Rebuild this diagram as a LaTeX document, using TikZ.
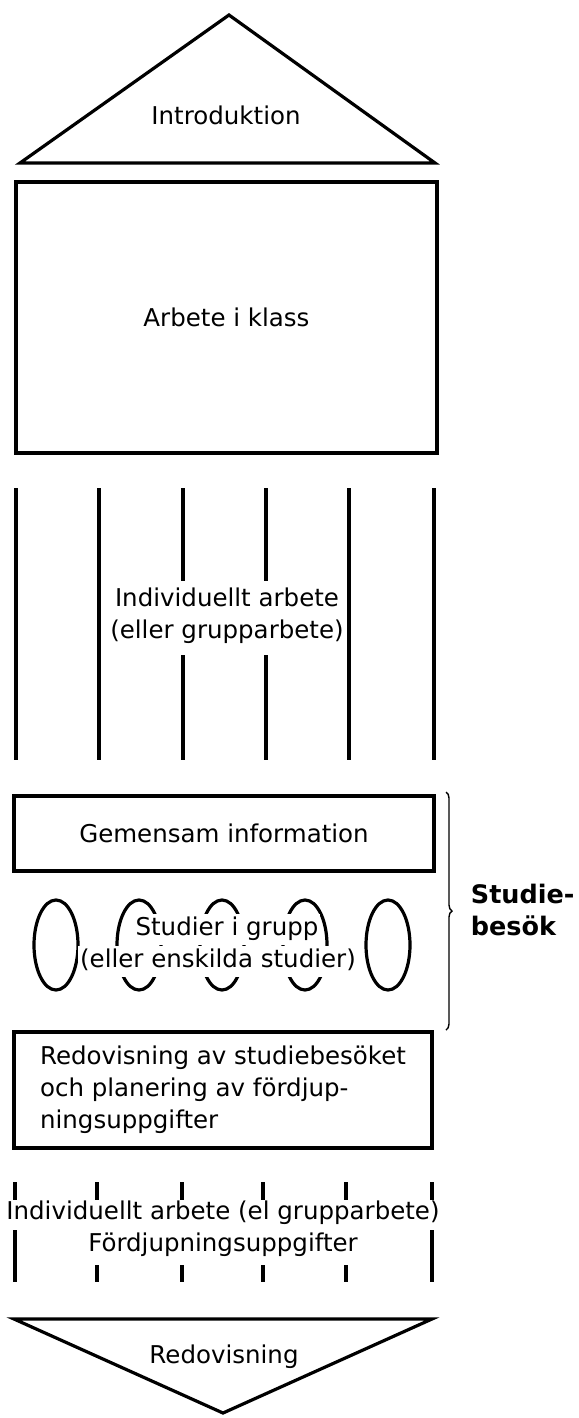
\documentclass[tikz,border=0pt]{standalone}
\usepackage{fontspec}
\setmainfont{DejaVu Sans}
\usetikzlibrary{decorations.pathreplacing}

\begin{document}
\begin{tikzpicture}[x=1pt, y=-1pt, line width=3.2pt,
  every node/.style={font=\fontsize{24.5}{32}\selectfont, align=center},
  box/.style={draw, line width=3.2pt, inner sep=0pt},
  mask/.style={fill=white, inner sep=2pt, text height=20pt, text depth=7pt}]
  \useasboundingbox (0,0) rectangle (578,1418);

  % opening triangle
  \draw (20,163) -- (229,15) -- (435,163) -- cycle;
  \node (intro) at (226,115) {Introduktion};

  % work in class
  \node[box, minimum width=421pt, minimum height=271pt] (klass) at (226.5,317.5) {Arbete i klass};

  % individual work -- stripes, the two middle ones broken by the text
  \draw (16,488) -- (16,760) (99,488) -- (99,760) (349,488) -- (349,760) (434,488) -- (434,760);
  \draw (183,488) -- (183,581) (183,655) -- (183,760) (266,488) -- (266,581) (266,655) -- (266,760);
  \node (indiv) at (227,616) {Individuellt arbete\\(eller grupparbete)};

  % study visit
  \node[box, minimum width=420pt, minimum height=75pt] (info) at (224,833.5) {Gemensam information};
  \draw (56,945) ellipse [x radius=22pt, y radius=45pt];
  \draw (139,945) ellipse [x radius=22pt, y radius=45pt];
  \draw (222,945) ellipse [x radius=22pt, y radius=45pt];
  \draw (305,945) ellipse [x radius=22pt, y radius=45pt];
  \draw (388,945) ellipse [x radius=22pt, y radius=45pt];
  \node[mask] (grp1) at (227,929) {Studier i grupp};
  \node[mask] (grp2) at (218,961) {(eller enskilda studier)};
  \node[box, minimum width=418pt, minimum height=116pt, align=left] (redov) at (223,1090)
    {Redovisning av studiebesöket\\och planering av fördjup-\\ningsuppgifter};

  % brace round the visit
  \draw[line width=1.4pt, decorate, decoration={brace, amplitude=6pt}] (446,792) -- (446,1030);
  \node[anchor=west, align=left, font=\bfseries\fontsize{25.5}{32}\selectfont] (besok) at (466,910) {Studie-\\besök};

  % follow-up work -- short ticks
  \draw (15,1182) -- (15,1200) (97,1182) -- (97,1200) (182,1182) -- (182,1200)
        (263,1182) -- (263,1200) (346,1182) -- (346,1200) (432,1182) -- (432,1200);
  \draw (15,1230) -- (15,1282) (97,1265) -- (97,1282) (182,1265) -- (182,1282)
        (263,1265) -- (263,1282) (346,1265) -- (346,1282) (432,1230) -- (432,1282);
  \node (fordj) at (223,1229) {Individuellt arbete (el grupparbete)\\Fördjupningsuppgifter};

  % closing triangle
  \draw (14,1319) -- (432,1319) -- (223,1413) -- cycle;
  \node (redo) at (224,1357) {Redovisning};
\end{tikzpicture}
\end{document}
